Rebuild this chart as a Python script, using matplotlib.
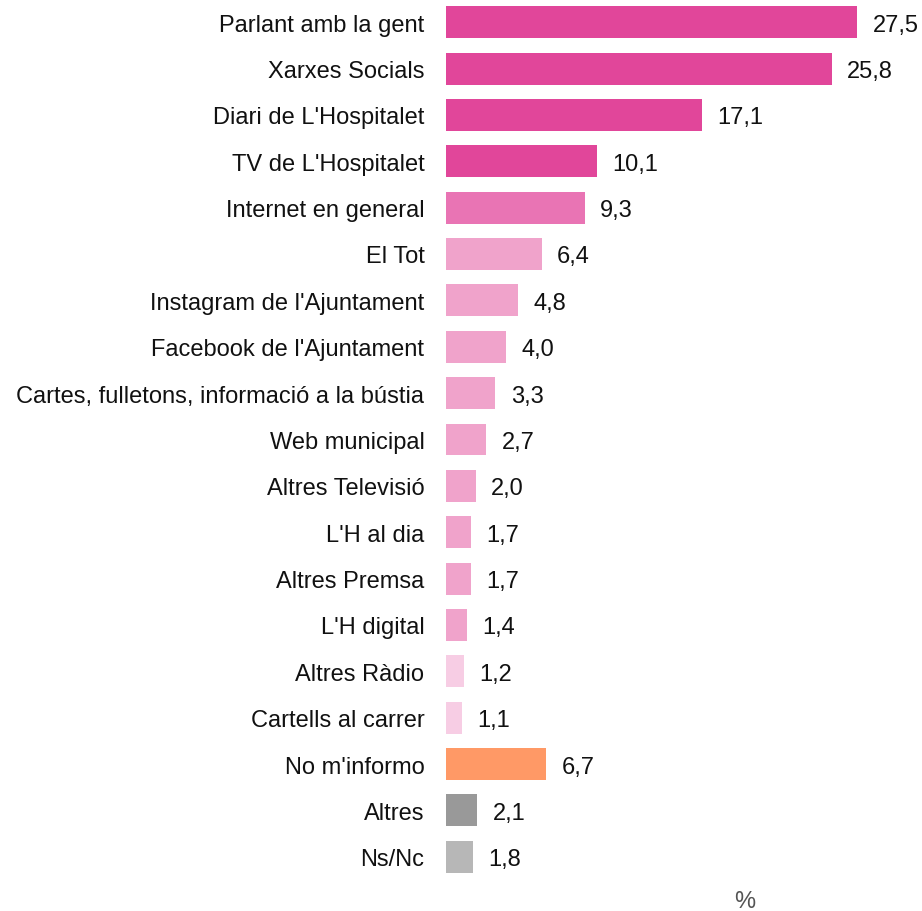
import matplotlib.pyplot as plt
import matplotlib.transforms as mtrans

plt.rcParams['font.family'] = ['Liberation Sans', 'DejaVu Sans']

categories = [
    "Parlant amb la gent", "Xarxes Socials", "Diari de L'Hospitalet",
    "TV de L'Hospitalet", "Internet en general", "El Tot",
    "Instagram de l'Ajuntament", "Facebook de l'Ajuntament",
    "Cartes, fulletons, informació a la bústia", "Web municipal",
    "Altres Televisió", "L'H al dia", "Altres Premsa", "L'H digital",
    "Altres Ràdio", "Cartells al carrer", "No m'informo", "Altres", "Ns/Nc",
]
values = [27.5, 25.8, 17.1, 10.1, 9.3, 6.4, 4.8, 4.0, 3.3, 2.7,
          2.0, 1.7, 1.7, 1.4, 1.2, 1.1, 6.7, 2.1, 1.8]
colors = (["#E1469A"] * 4 + ["#E974B4"] + ["#F0A3CB"] * 9
          + ["#F7CDE4"] * 2 + ["#FF9966", "#999999", "#B7B7B7"])

FS = 17
cap_half = FS * 0.716 / 2  # points, to center capitals on the bar

fig = plt.figure(figsize=(9.22, 9.12), dpi=100)
ax = fig.add_axes([446 / 922, 31 / 912, 476 / 922, 881 / 912])

pos = list(range(len(categories)))
bars = ax.barh(pos, values, height=0.69, color=colors)
ax.set_ylim(len(categories) - 0.5, -0.5)
ax.set_xlim(0, 31.84)

for b, v in zip(bars, values):
    ax.annotate(f"{v:.1f}".replace(".", ","),
                (b.get_width(), b.get_y() + b.get_height() / 2),
                xytext=(11, -cap_half), textcoords="offset points",
                va="baseline", ha="left", fontsize=FS, color="#111111")

ax.set_yticks(pos)
ax.set_yticklabels(categories, fontsize=FS, color="#111111")
ax.tick_params(axis="y", length=0, pad=15.5)
offset = mtrans.ScaledTranslation(0, -cap_half / 72, fig.dpi_scale_trans)
for lab in ax.get_yticklabels():
    lab.set_va("baseline")
    lab.set_transform(lab.get_transform() + offset)
ax.set_xticks([])
for s in ax.spines.values():
    s.set_visible(False)

fig.text(745 / 922, 1 - 902 / 912, "%", ha="center", va="center",
         fontsize=FS, color="#555555")

fig.savefig("out.png", dpi=100)
